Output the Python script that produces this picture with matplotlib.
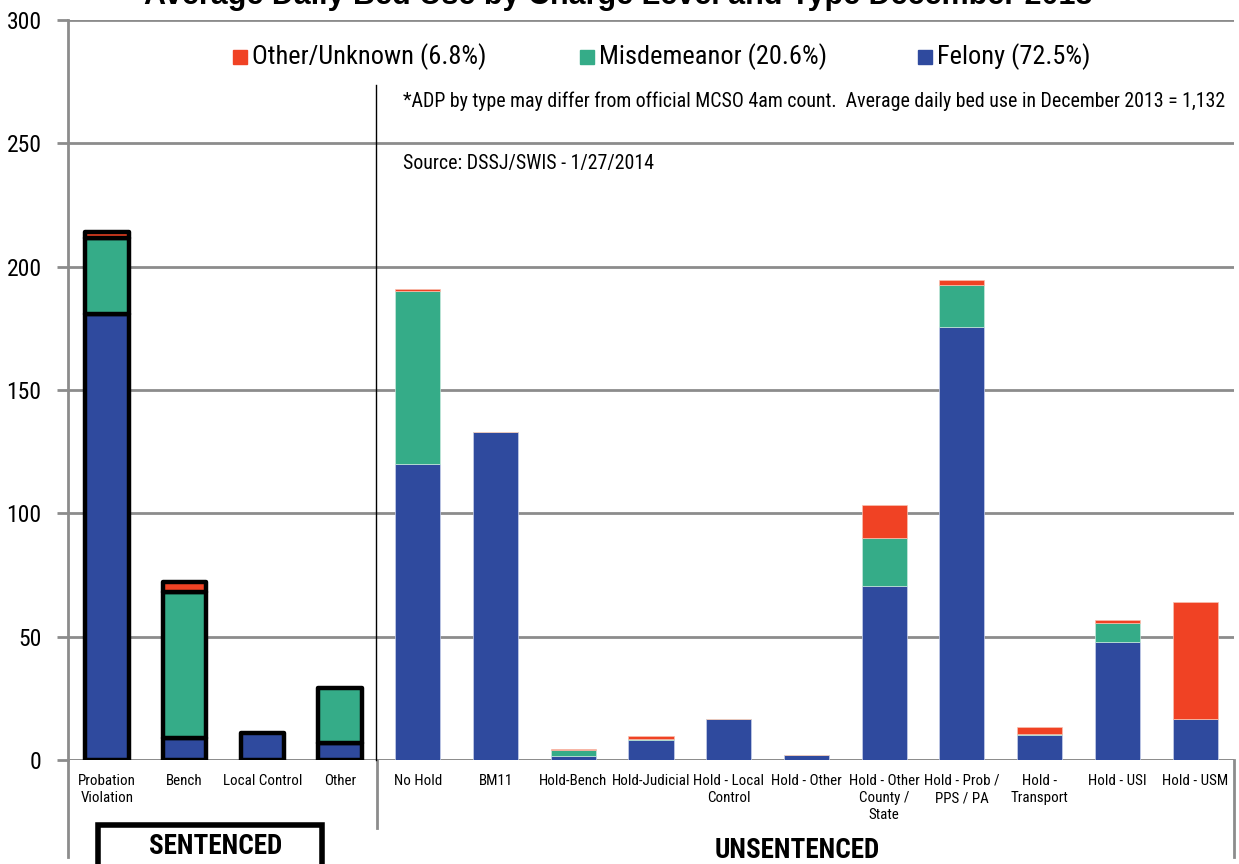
import matplotlib
matplotlib.use("Agg")
import matplotlib.pyplot as plt
from matplotlib.patches import Rectangle
from matplotlib.lines import Line2D
from matplotlib import font_manager
import numpy as np

names = {f.name for f in font_manager.fontManager.ttflist}
fam = [f for f in ["Liberation Sans Narrow", "Arial Narrow", "Roboto Condensed", "Open Sans Condensed",
                   "Liberation Sans", "DejaVu Sans"] if f in names]
plt.rcParams['font.family'] = fam
title_fam = [f for f in ["Liberation Sans", "DejaVu Sans"] if f in names]

categories = ["Probation\nViolation", "Bench", "Local Control", "Other",
              "No Hold", "BM11", "Hold-Bench", "Hold-Judicial", "Hold - Local\nControl",
              "Hold - Other", "Hold - Other\nCounty /\nState", "Hold - Prob /\nPPS / PA",
              "Hold -\nTransport", "Hold - USI", "Hold - USM"]
felony = [181, 9, 11, 7, 120, 133, 1.5, 8, 16.5, 2, 70.7, 175.5, 10, 48, 16.5]
misdemeanor = [30.5, 59, 0, 22, 70, 0, 2.5, 0.7, 0.2, 0, 19.3, 17, 0.7, 7.4, 0]
other_unknown = [2.5, 4, 0, 0, 1, 0, 0.3, 1, 0, 0, 13.4, 2, 2.7, 1.4, 47.4]
legend_labels = ["Other/Unknown (6.8%)", "Misdemeanor (20.6%)", "Felony (72.5%)"]
n_sentenced = 4

c_fel = "#2F4A9E"
c_mis = "#35AC88"
c_oth = "#F04224"

W, H = 1239, 864
fig = plt.figure(figsize=(W/100, H/100), dpi=100)
ax = fig.add_axes([68/W, (H-760)/H, 1166/W, 740/H])

x = np.arange(len(categories))
fel = np.array(felony); mis = np.array(misdemeanor); oth = np.array(other_unknown)
sent = x < n_sentenced
uns = ~sent
bw = 0.58
# unsentenced bars
ax.bar(x[uns], fel[uns], bw, color=c_fel, edgecolor="#c8d0ea", linewidth=0.5, zorder=3)
ax.bar(x[uns], mis[uns], bw, bottom=fel[uns], color=c_mis, edgecolor="#c8e8dc", linewidth=0.5, zorder=3)
ax.bar(x[uns], oth[uns], bw, bottom=(fel+mis)[uns], color=c_oth, edgecolor="#f8c0b0", linewidth=0.5, zorder=3)
# sentenced bars with thick black outlines
for vals, bottoms, col in [(fel, np.zeros_like(fel), c_fel), (mis, fel, c_mis), (oth, fel+mis, c_oth)]:
    m = sent & (vals > 0)
    ax.bar(x[m], vals[m], 0.56, bottom=bottoms[m], color=col, edgecolor="black",
           linewidth=3.2, zorder=4, joinstyle="round")

ax.set_xlim(-0.5, len(categories)-0.5)
ax.set_ylim(0, 300)
ax.set_yticks(np.arange(0, 301, 50))
ax.yaxis.grid(True, color="#8c8c8c", linewidth=2)
ax.set_axisbelow(True)
for s in ["top", "right", "bottom"]:
    ax.spines[s].set_visible(False)
ax.spines["left"].set_color("#8c8c8c")
ax.spines["left"].set_linewidth(2)
ax.tick_params(axis="y", length=8, width=2, color="#8c8c8c", labelsize=17, pad=11)
ax.set_xticks(x)
ax.set_xticklabels(categories, fontsize=10.8, linespacing=1.3)
ax.tick_params(axis="x", length=0, pad=10)
ax.axhline(0, color="#8c8c8c", linewidth=2, zorder=2)

def fx(px): return px / W
def fy(py): return 1 - py / H

# axis extension lines below plot
fig.add_artist(Line2D([fx(68), fx(68)], [fy(760), fy(857)], color="#8c8c8c", lw=2))
fig.add_artist(Line2D([fx(377), fx(377)], [fy(760), fy(828)], color="#8c8c8c", lw=2))
fig.add_artist(Line2D([fx(1234), fx(1234)], [fy(760), fy(857)], color="#8c8c8c", lw=2))
# divider line
fig.add_artist(Line2D([fx(376), fx(376)], [fy(85), fy(760)], color="black", lw=1))

# title (cropped at top, as in the source image)
fig.text(fx(618), fy(4), "Average Daily Bed Use by Charge Level and Type December 2013",
         ha="center", va="baseline", fontsize=22, fontweight="bold", family=title_fam)

# legend (manual placement)
sq = 14
for xs, xt, col, lab in [(233, 252, c_oth, legend_labels[0]),
                         (580, 599, c_mis, legend_labels[1]),
                         (918, 937, c_fel, legend_labels[2])]:
    fig.add_artist(Rectangle((fx(xs), fy(57 + sq/2)), sq/W, sq/H, color=col,
                             transform=fig.transFigure))
    fig.text(fx(xt), fy(57), lab, ha="left", va="center", fontsize=19)

fig.text(fx(403), fy(101), "*ADP by type may differ from official MCSO 4am count.  Average daily bed use in December 2013 = 1,132",
         ha="left", va="center", fontsize=14.3)
fig.text(fx(403), fy(163), "Source: DSSJ/SWIS - 1/27/2014", ha="left", va="center", fontsize=14.3)

# section labels
fig.add_artist(Rectangle((fx(98), fy(870)), fx(322)-fx(98), fy(825)-fy(870), fill=False,
                         edgecolor="black", lw=4, transform=fig.transFigure))
fig.text(fx(216), fy(846), "SENTENCED", ha="center", va="center", fontsize=19.5, fontweight="bold")
fig.text(fx(797), fy(850), "UNSENTENCED", ha="center", va="center", fontsize=19.5, fontweight="bold")

fig.savefig("out.png", dpi=100)
